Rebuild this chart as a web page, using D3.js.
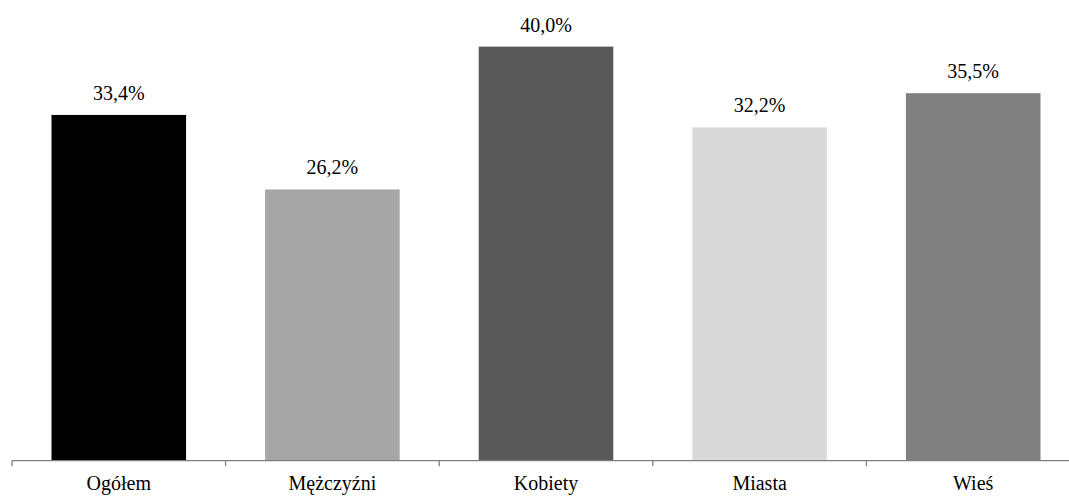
<!DOCTYPE html>
<html>
<head>
<meta charset="utf-8">
<script src="https://cdn.jsdelivr.net/npm/d3@7"></script>
<style>
  body { margin: 0; background: #fff; }
</style>
</head>
<body>
<script>
// data
let categories = ['Ogółem', 'Mężczyźni', 'Kobiety', 'Miasta', 'Wieś']
let values = [33.4, 26.2, 40.0, 32.2, 35.5]
let colors = ['#000000', '#a6a6a6', '#595959', '#d9d9d9', '#808080']

let width = 1069, height = 496

let svg = d3.select('body').append('svg')
    .attr('width', width)
    .attr('height', height)

// x scale, one band per category
let xScale = d3.scaleBand()
    .domain(categories)
    .range([12, 1080])
    .paddingInner(0.37)
    .paddingOuter(0.185)

// y scale, axis sits at 460.7
let yScale = d3.scaleLinear()
    .domain([0, 44.5])
    .range([460.7, 0])

// bars
svg.selectAll('.bar')
    .data(values)
    .enter()
    .append('rect')
        .attr('x', (d, i) => xScale(categories[i]))
        .attr('y', d => yScale(d))
        .attr('width', xScale.bandwidth())
        .attr('height', d => yScale(0) - yScale(d))
        .attr('fill', (d, i) => colors[i])

// center a text on cx by measuring it
function center(sel, cx) {
    sel.each(function(d, i) {
        let w = this.getComputedTextLength()
        d3.select(this).attr('x', cx(d, i) - w / 2)
    })
}

// value labels
let labels = svg.selectAll('.label')
    .data(values)
    .enter()
    .append('text')
        .attr('y', d => yScale(d) - 15)
        .style('font-family', 'Times New Roman')
        .attr('font-size', 20)
        .attr('fill', '#000')
        .text(d => d.toFixed(1).replace('.', ',') + '%')
center(labels, (d, i) => xScale(categories[i]) + xScale.bandwidth() / 2)

// x axis line with ticks between categories
let step = xScale.step()
let axis = svg.append('g').attr('id', 'x-axis')

axis.append('line')
    .attr('x1', 12).attr('x2', 1080)
    .attr('y1', yScale(0)).attr('y2', yScale(0))
    .attr('stroke', '#808080')
    .attr('stroke-width', 1.3)

let tickPos = d3.range(categories.length + 1).map(i => 12 + i * step)
axis.selectAll('.tick')
    .data(tickPos)
    .enter()
    .append('line')
        .attr('x1', d => d).attr('x2', d => d)
        .attr('y1', yScale(0)).attr('y2', yScale(0) + 5.5)
        .attr('stroke', '#808080')
        .attr('stroke-width', 1.3)

let cats = axis.selectAll('.cat')
    .data(categories)
    .enter()
    .append('text')
        .attr('y', 490)
        .style('font-family', 'Times New Roman')
        .attr('font-size', 20)
        .attr('fill', '#000')
        .text(d => d)
center(cats, d => xScale(d) + xScale.bandwidth() / 2)
</script>
</body>
</html>
